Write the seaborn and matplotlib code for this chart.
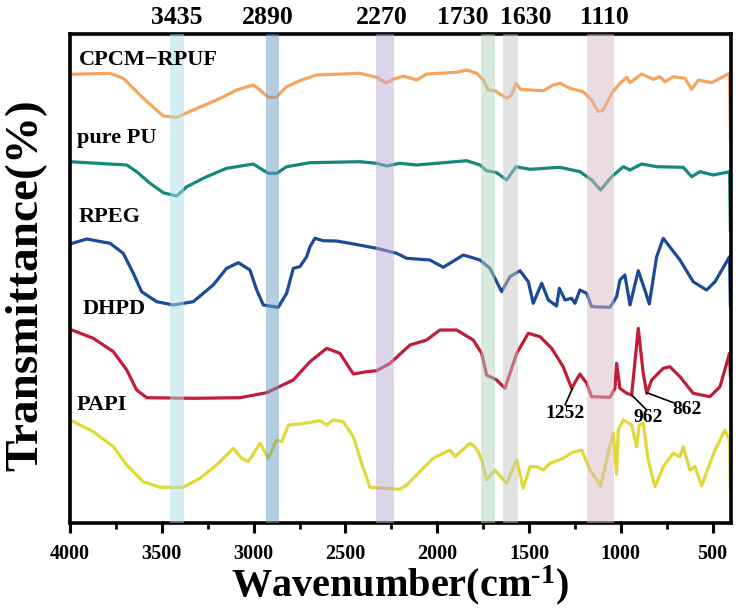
import matplotlib
matplotlib.use("Agg")
import matplotlib.pyplot as plt
import pandas as pd
import seaborn as sns

# ---------------- data ----------------
samples = ["CPCM\u2212RPUF", "pure PU", "RPEG", "DHPD", "PAPI"]
line_colors = ["#f5a560", "#16877f", "#1b4b94", "#c11d39", "#e2d838"]

cpcm_wn = [4000, 3782, 3710, 3601, 3492, 3419, 3329, 3201, 3092, 3002, 2965, 2920, 2878, 2820, 2748, 2657,
           2421, 2330, 2279, 2239, 2185, 2112, 2058, 1894, 1840, 1785, 1749, 1722, 1686, 1622, 1595, 1571,
           1546, 1495, 1422, 1368, 1332, 1277, 1205, 1159, 1123, 1096, 1050, 1005, 968, 950, 887, 823, 787,
           760, 715, 651, 614, 578, 505, 408, 403]
cpcm_t = [448.7, 449.7, 444.7, 424.7, 407, 405.7, 413, 423, 433, 438, 433, 425.7, 425.7, 436.3, 442.3, 448,
          449.7, 445.7, 440.3, 443.7, 447, 443, 449, 450.7, 453, 449.7, 443, 433, 432.3, 424.7, 428, 439.7,
          433.7, 433, 432.3, 438, 439.7, 434.7, 431.3, 423, 411.3, 413, 429.7, 439.7, 445.7, 440.3, 449, 443.7,
          446.3, 441.3, 446.3, 444.7, 433.7, 443, 440.3, 449.7, 383]

pu_wn = [4000, 3691, 3637, 3564, 3492, 3419, 3364, 3256, 3147, 3002, 2965, 2920, 2874, 2820, 2693, 2421,
         2330, 2275, 2203, 2112, 1840, 1767, 1731, 1676, 1622, 1571, 1495, 1332, 1223, 1159, 1110, 1050,
         987, 950, 887, 805, 660, 614, 569, 497, 408, 403]
pu_t = [361.3, 358, 351.3, 339.7, 330.3, 327, 336.3, 346.3, 354.7, 359, 354.7, 349.7, 349.7, 356.3, 360.3,
        361.3, 359.7, 357, 359.7, 358, 362.3, 358, 352.3, 350.3, 343, 356.3, 353.7, 355.7, 351.3, 343, 333,
        346.3, 356.3, 353, 359, 356.3, 355.7, 346.3, 351.3, 348, 351.3, 291.3]

rpeg_wn = [4000, 3909, 3782, 3710, 3655, 3610, 3528, 3437, 3329, 3220, 3147, 3083, 3020, 2983, 2947, 2866,
           2820, 2784, 2748, 2711, 2693, 2666, 2621, 2548, 2475, 2330, 2221, 2166, 2040, 1967, 1858, 1767,
           1713, 1649, 1604, 1549, 1504, 1477, 1431, 1395, 1350, 1335, 1304, 1268, 1250, 1223, 1186, 1159,
           1059, 1023, 1005, 978, 950, 905, 869, 845, 805, 769, 678, 606, 533, 487, 408, 403]
rpeg_t = [279, 284, 279.7, 269.7, 249.7, 231.3, 221.3, 218, 221.3, 238, 254.7, 260.3, 253, 233, 218, 215.7,
          229.7, 254.7, 256.3, 266.3, 276.3, 284.7, 282.3, 282, 279.7, 274.7, 269.7, 264.7, 263, 255.7, 268,
          263, 254.7, 231.3, 246.3, 252.3, 241.3, 219.7, 239.7, 223, 217, 234.7, 223, 224.7, 219.7, 233,
          229.7, 216.3, 215.7, 226.3, 243, 248, 218, 252.3, 233, 219, 266.3, 284.7, 263, 241.3, 233, 241.3,
          266.3, 216.3]

dhpd_wn = [4000, 3873, 3764, 3691, 3637, 3582, 3329, 3074, 2929, 2784, 2693, 2602, 2530, 2457, 2384, 2330,
           2257, 2148, 2058, 1985, 1894, 1804, 1758, 1731, 1676, 1631, 1567, 1504, 1440, 1377, 1314, 1268,
           1223, 1186, 1159, 1059, 1032, 1023, 1005, 968, 941, 905, 878, 859, 832, 796, 769, 733, 678, 606,
           515, 460, 408, 403]
dhpd_t = [193.7, 184.7, 171.3, 153, 133, 125.3, 124.7, 125.3, 130.3, 143, 161.3, 174.7, 169.7, 149, 151.3,
          152.3, 159.7, 178, 183, 193, 193, 183, 169.7, 148, 143, 134.7, 169.7, 189.7, 186.3, 174.7, 156.3,
          134.7, 149, 139.7, 126.3, 125.7, 134.7, 159.7, 134.7, 129.7, 128, 194.7, 149.7, 129.7, 143, 149.7,
          154.7, 156.3, 146.3, 129.7, 126.3, 136.3, 169.7, 146.3]

papi_wn = [4000, 3873, 3764, 3691, 3601, 3510, 3383, 3292, 3201, 3111, 3065, 3029, 2965, 2920, 2874, 2847,
           2811, 2748, 2639, 2602, 2566, 2512, 2457, 2412, 2366, 2203, 2166, 2094, 2022, 1931, 1903, 1822,
           1795, 1777, 1758, 1731, 1686, 1622, 1567, 1532, 1495, 1459, 1422, 1386, 1314, 1268, 1213, 1168,
           1110, 1069, 1041, 1023, 1014, 987, 941, 914, 900, 878, 851, 814, 769, 715, 678, 660, 624, 596,
           560, 515, 487, 433, 408, 403]
papi_t = [103, 91.3, 76.3, 58, 41.3, 35.7, 35.7, 44.7, 58, 74.7, 64.7, 61.3, 79.7, 64.7, 83, 81.3, 98, 99,
          102.3, 98, 103, 101.3, 86.3, 59.7, 35.7, 33.7, 38, 51.3, 64.7, 73, 66.3, 79.7, 76.3, 71.3, 63, 43,
          53, 39.7, 63, 34.7, 56.3, 56.3, 53, 59.7, 64.7, 70.3, 73, 53, 37, 69.7, 89.7, 49, 93, 103, 98, 76.3,
          98, 99.7, 63, 36.3, 56.3, 69.7, 66.3, 76.3, 53, 56.3, 37, 59.7, 73, 93, 83, 33]

band_labels = ["3435", "2890", "2270", "1730", "1630", "1110"]
band_lo = [3379, 2862, 2236, 1684, 1562, 1036]
band_hi = [3455, 2934, 2334, 1763, 1640, 1183]
band_label_wn = [3419, 2922, 2303, 1860, 1517, 1092]
band_colors = ["#addfeb", "#6a9fc1", "#bbabd5", "#b3d5bf", "#c7c7c7", "#d9bbc7"]

peak_labels = ["1252", "962", "862"]
peak_xy = [(1263, 134.7), (941, 128), (859, 130.3)]
peak_line_end = [(1304, 118), (859, 113), (714, 120.3)]
peak_text_xy = [(1304, 110), (851, 106), (642, 114)]

label_xy = [(3951, 463), (3962, 385), (3951, 306), (3929, 214), (3962, 117.5)]

xticks = [4000, 3500, 3000, 2500, 2000, 1500, 1000, 500]
xminor = [3750, 3250, 2750, 2250, 1750, 1250, 750]

# ---------------- long-form table ----------------
series = [(cpcm_wn, cpcm_t), (pu_wn, pu_t), (rpeg_wn, rpeg_t), (dhpd_wn, dhpd_t), (papi_wn, papi_t)]
df = pd.concat(
    [pd.DataFrame({"wavenumber": w, "T": t, "sample": s}) for (w, t), s in zip(series, samples)],
    ignore_index=True,
)

# ---------------- style ----------------
sns.set_style("ticks")
plt.rcParams["font.family"] = ["Liberation Serif", "DejaVu Serif"]
plt.rcParams["font.weight"] = "bold"
plt.rcParams["text.color"] = "black"
plt.rcParams["axes.labelcolor"] = "black"
plt.rcParams["xtick.color"] = "black"
plt.rcParams["ytick.color"] = "black"
plt.rcParams["axes.edgecolor"] = "black"
plt.rcParams["mathtext.fontset"] = "custom"
plt.rcParams["mathtext.rm"] = "Liberation Serif:bold"
plt.rcParams["mathtext.bf"] = "Liberation Serif:bold"
plt.rcParams["mathtext.it"] = "Liberation Serif:bold"

fig = plt.figure(figsize=(7.42, 6.16), dpi=100)
ax = fig.add_axes([70 / 742, 1 - 523 / 616, 661 / 742, 489 / 616])

sns.lineplot(data=df, x="wavenumber", y="T", hue="sample", hue_order=samples,
             palette=dict(zip(samples, line_colors)), sort=False, estimator=None,
             legend=False, linewidth=2.3, ax=ax, zorder=2)

for lo, hi, c in zip(band_lo, band_hi, band_colors):
    ax.axvspan(lo, hi, color=c, alpha=0.5, lw=0, zorder=3)

for lab, wn in zip(band_labels, band_label_wn):
    ax.text(wn, 1.033, lab, transform=ax.get_xaxis_transform(), ha="center", va="center",
            fontsize=18.5, fontweight="bold", color="black", clip_on=False)

for s, (x, y) in zip(samples, label_xy):
    ax.text(x, y, s, ha="left", va="center", fontsize=16, fontweight="bold", color="black", zorder=5)

for lab, p, e, tp in zip(peak_labels, peak_xy, peak_line_end, peak_text_xy):
    ax.plot([p[0], e[0]], [p[1], e[1]], color="black", lw=1.2, zorder=4)
    ax.text(tp[0], tp[1], lab, ha="center", va="center", fontsize=14, fontweight="bold",
            color="black", zorder=5)

ax.set_xlim(4000, 400)
ax.set_ylim(0, 489)
ax.set_xticks(xticks)
ax.set_xticks(xminor, minor=True)
ax.set_xticklabels([str(v) for v in xticks], fontsize=14.5, fontweight="bold", color="black")
ax.set_yticks([])
ax.tick_params(axis="x", which="major", direction="out", length=7, width=2.2, pad=8, colors="black")
ax.tick_params(axis="x", which="minor", direction="out", length=4, width=2.0, colors="black")
for sp in ax.spines.values():
    sp.set_visible(True)
    sp.set_linewidth(2.6)
    sp.set_color("black")

ax.set_xlabel("Wavenumber(cm$^{\\text{-1}}$)", fontsize=29, fontweight="bold", va="center", color="black")
ax.xaxis.set_label_coords(0.499, -0.127)
ax.set_ylabel("Transmittance(%)", fontsize=34, fontweight="bold", va="center", color="black")
ax.yaxis.set_label_coords(-0.066, 0.487)

fig.savefig("out.png", dpi=100)
